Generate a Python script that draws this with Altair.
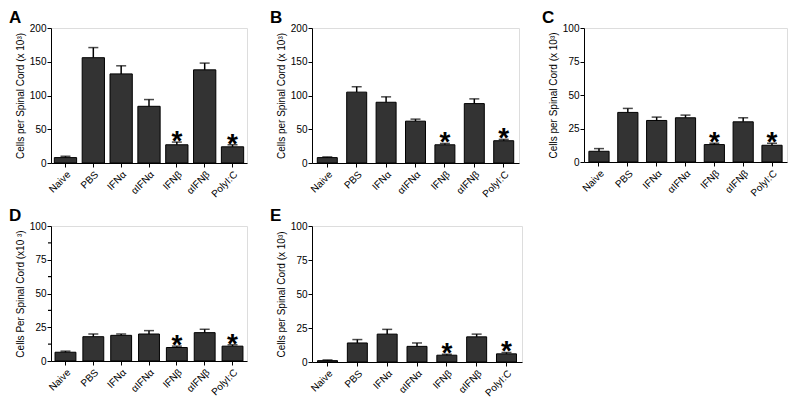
import altair as alt
import pandas as pd

categories = ["Naive", "PBS", "IFNα", "αIFNα", "IFNβ", "αIFNβ", "PolyI:C"]
starred = ["IFNβ", "PolyI:C"]

a_mean = [8, 156, 132, 84, 27, 138, 24]
a_err = [2, 15, 12, 10, 4, 10, 3]
b_mean = [8, 105, 90, 62, 27, 88, 33]
b_err = [1, 8, 8, 3, 2, 7, 2]
c_mean = [8, 37, 31, 33, 13, 30, 12.5]
c_err = [2, 3, 2.5, 2, 1, 3, 1.5]
d_mean = [6.5, 18, 19, 20, 10, 21, 11]
d_err = [0.8, 2, 1, 2.5, 1, 2.5, 1]
e_mean = [1, 14, 20.5, 11.5, 5, 18.5, 6]
e_err = [0.5, 2.5, 3.5, 2.5, 0.7, 2, 1]

FONT = "Liberation Sans"


def panel(label, means, errs, ymax, step, ytitle, width, height, pad, minor=None):
    df = pd.DataFrame({"cat": categories, "mean": means, "err": errs})
    df["top"] = df["mean"] + df["err"]
    df["star"] = [("*" if c in starred else "") for c in categories]
    xaxis = alt.Axis(labelAngle=-45, labelFontSize=10, labelFont=FONT,
                     labelColor="black", tickColor="black", domainColor="black",
                     tickSize=4, labelPadding=2)
    x = alt.X("cat:N", sort=categories, title=None,
              scale=alt.Scale(paddingInner=pad, paddingOuter=pad / 2 + 0.02), axis=xaxis)
    yscale = alt.Scale(domain=[0, ymax], nice=False)
    yaxis = alt.Axis(values=[float(v) for v in range(0, ymax + 1, step)], labelFontSize=10,
                     labelFont=FONT, labelColor="black", tickColor="black",
                     domainColor="black", tickSize=4, labelPadding=1,
                     titleFont=FONT, titleFontSize=10, titleFontWeight="normal",
                     titleColor="black", titlePadding=4, grid=False, labelOverlap=False)

    def Y(field):
        return alt.Y(field, scale=yscale, title=ytitle, axis=yaxis)

    bars = alt.Chart(df).mark_bar(color="#333333", stroke="black", strokeWidth=1).encode(
        x=x, y=Y("mean:Q"))
    whisk = alt.Chart(df).mark_rule(color="black", strokeWidth=1.5).encode(
        x=x, y=Y("mean:Q"), y2="top:Q")
    cap = alt.Chart(df).mark_tick(color="black", thickness=1.5, size=10).encode(
        x=x, y=Y("top:Q"))
    stars = alt.Chart(df).mark_text(fontSize=28, fontWeight="bold", font=FONT,
                                    baseline="alphabetic", dy=8, color="black").encode(
        x=x, y=Y("top:Q"), text="star:N")
    layers = [bars, whisk, cap, stars]
    if minor:
        mdf = pd.DataFrame({"m": minor})
        layers.append(alt.Chart(mdf).mark_rule(color="black", strokeWidth=1.2).encode(
            x=alt.value(-3), x2=alt.value(0), y=Y("m:Q")))
    return alt.layer(*layers).properties(
        width=width, height=height,
        title=alt.Title(label, anchor="start", frame="group", dx=-42,
                        fontSize=17, fontWeight="bold", font=FONT, color="black", offset=-4),
    )


t1 = "Cells per Spinal Cord (x 10³)"
t2 = "Cells Per Spinal Cord (x10 ³)"
A = panel("A", a_mean, a_err, 200, 50, t1, 196, 135, 0.2)
B = panel("B", b_mean, b_err, 200, 50, t1, 207, 135, 0.32)
C = panel("C", c_mean, c_err, 100, 25, t1, 203, 134, 0.3)
D = panel("D", d_mean, d_err, 100, 25, t2, 196, 135, 0.25, minor=[12.5, 37.5, 62.5, 87.5])
E = panel("E", e_mean, e_err, 100, 25, t1, 210, 136, 0.33)

chart = alt.vconcat(
    alt.hconcat(A, B, C, spacing=21),
    alt.hconcat(D, E, spacing=21),
    spacing=6,
).properties(padding=0).configure_view(stroke="black", strokeWidth=1.5).configure(
    background="white")

chart.save("out.html", embed_options={"renderer": "svg", "actions": False})
